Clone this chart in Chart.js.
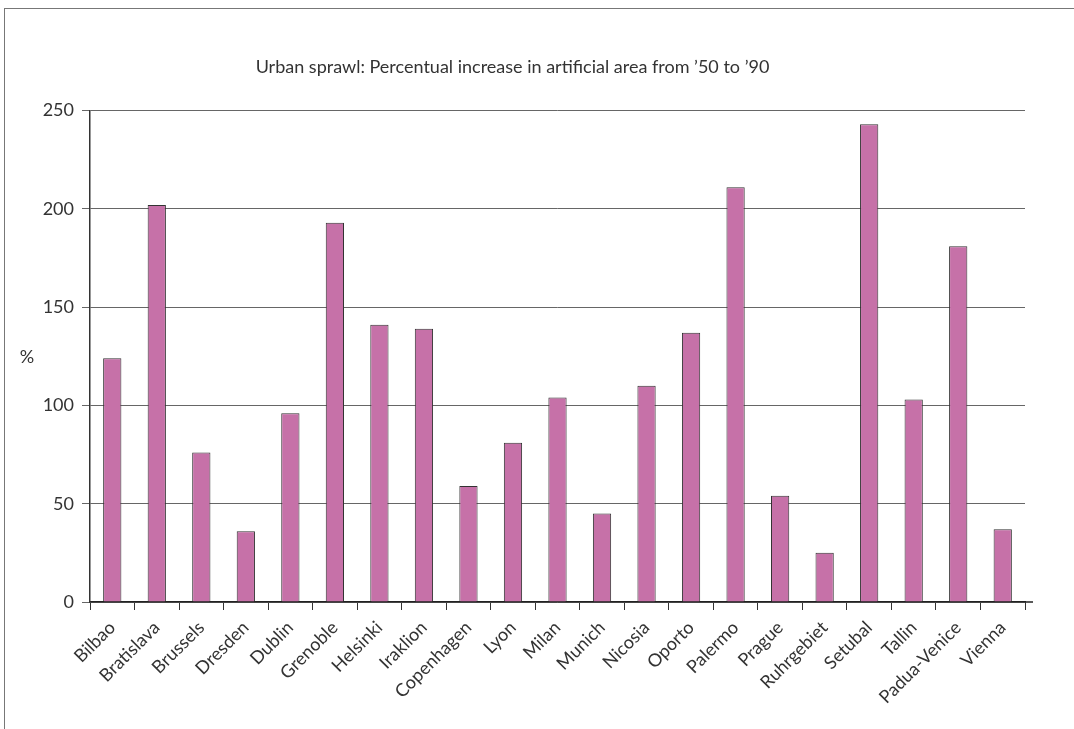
<!DOCTYPE html>
<html>
<head>
<meta charset="utf-8">
<script src="https://cdn.jsdelivr.net/npm/chart.js@4"></script>
<style>
  html, body { margin: 0; padding: 0; background: #fff; overflow: hidden; }
  #wrap { position: relative; width: 1074px; height: 729px; }
  #frame {
    position: absolute; left: 4px; top: 8px; width: 1200px; height: 800px;
    border-left: 1px solid #777; border-top: 1px solid #777; pointer-events: none;
  }
</style>
</head>
<body>
<div id="wrap">
  <canvas id="sprawlChart" width="1074" height="729"></canvas>
  <div id="frame"></div>
</div>
<script>
const cities = ['Bilbao', 'Bratislava', 'Brussels', 'Dresden', 'Dublin', 'Grenoble', 'Helsinki',
  'Iraklion', 'Copenhagen', 'Lyon', 'Milan', 'Munich', 'Nicosia', 'Oporto', 'Palermo', 'Prague',
  'Ruhrgebiet', 'Setubal', 'Tallin', 'Padua-Venice', 'Vienna'];
const increase = [124, 202, 76, 36, 96, 193, 141, 139, 59, 81, 104, 45, 110, 137, 211, 54, 25, 243, 103, 181, 37];
const yTicks = [0, 50, 100, 150, 200, 250];

const FONT = 'Lato, "DejaVu Sans", sans-serif';

// "%" label sits horizontally left of the axis, x axis line runs a bit past the last tick
const extras = {
  id: 'extras',
  afterDraw(chart) {
    const ctx = chart.ctx;
    const area = chart.chartArea;
    ctx.save();
    ctx.font = '18px ' + FONT;
    ctx.fillStyle = '#333';
    ctx.textAlign = 'center';
    ctx.textBaseline = 'middle';
    ctx.fillText('%', 27, 357);
    ctx.strokeStyle = '#222';
    ctx.lineWidth = 1.5;
    ctx.beginPath();
    ctx.moveTo(area.right, chart.scales.y.getPixelForValue(0));
    ctx.lineTo(area.right + 8, chart.scales.y.getPixelForValue(0));
    ctx.stroke();
    ctx.restore();
  }
};

new Chart(document.getElementById('sprawlChart').getContext('2d'), {
  type: 'bar',
  data: {
    labels: cities,
    datasets: [{
      data: increase,
      backgroundColor: '#c671a8',
      borderColor: '#333',
      borderWidth: 1,
      borderSkipped: 'bottom',
      categoryPercentage: 1,
      barPercentage: 0.41
    }]
  },
  options: {
    responsive: false,
    animation: false,
    layout: { padding: { left: 0, right: 49, top: 0, bottom: 0 } },
    plugins: {
      legend: { display: false },
      tooltip: { enabled: false },
      title: {
        display: true,
        text: 'Urban sprawl: Percentual increase in artificial area from ’50 to ’90',
        color: '#333',
        font: { family: FONT, size: 18, weight: 'normal' },
        padding: { top: 56, bottom: 33 }
      }
    },
    scales: {
      x: {
        afterFit(s) { s.height = 127; },
        grid: {
          offset: true,
          drawOnChartArea: false,
          drawTicks: true,
          tickLength: 8,
          color: '#333',
          lineWidth: 1
        },
        border: { display: true, color: '#222', width: 1.5 },
        ticks: {
          autoSkip: false,
          maxRotation: 45,
          minRotation: 45,
          padding: 7,
          color: '#333',
          font: { family: FONT, size: 18 }
        }
      },
      y: {
        min: 0,
        max: 250,
        afterFit(s) { s.width = 90; },
        afterBuildTicks(s) { s.ticks = yTicks.map(v => ({ value: v })); },
        grid: { color: '#666', lineWidth: 1, tickLength: 8 },
        border: { display: true, color: '#333', width: 1.5 },
        ticks: {
          padding: 8,
          color: '#333',
          font: { family: FONT, size: 18 }
        }
      }
    }
  },
  plugins: [extras]
});
</script>
</body>
</html>
